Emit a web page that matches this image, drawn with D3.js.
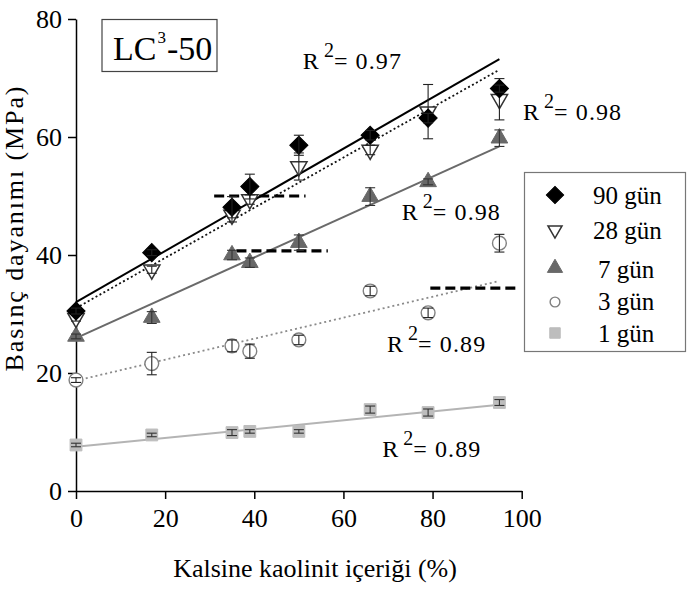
<!DOCTYPE html>
<html>
<head>
<meta charset="utf-8">
<script src="https://cdn.jsdelivr.net/npm/d3@7"></script>
</head>
<body style="margin:0">
<svg id="chart" width="687" height="589"></svg>
<script>
// Kalsine kaolinit içeriği (%) at which each mix was tested
const kaolinit = [0, 17, 35, 39, 50, 66, 79, 95];

// Compressive strength (MPa) per curing age, with error-bar half widths
const seriesNames = ["90 gün", "28 gün", "7 gün", "3 gün", "1 gün"];
const gun90 = [30.5, 40.4, 48.1, 51.6, 58.6, 60.3, 63.2, 68.2];
const err90 = [0.5, 0.5, 1.8, 2.1, 1.7, 0.8, 0.8, 0.6];
const gun28 = [29.3, 37.5, 46.8, 49.4, 55.0, 57.8, 64.3, 66.4];
const err28 = [0.5, 0.6, 1.2, 0.8, 2.3, 0.8, 4.6, 3.5];
const gun7 = [26.2, 29.4, 40.0, 38.7, 42.1, 49.9, 52.4, 59.8];
const err7 = [0.4, 1.0, 0.8, 0.8, 1.3, 1.5, 0.5, 1.4];
const gun3 = [18.8, 21.6, 24.6, 23.7, 25.6, 33.9, 30.2, 42.0];
const err3 = [0.4, 1.9, 1.0, 1.2, 0.8, 0.8, 0.8, 1.5];
const gun1 = [7.8, 9.5, 9.9, 10.1, 10.1, 13.8, 13.3, 15.0];
const err1 = [0.3, 0.3, 0.5, 0.3, 0.3, 0.6, 0.6, 0.5];

// Linear trend lines: value at 0 % and at 95 % kaolinit
const fitFromX = 0, fitToX = 95;
const fitStart = [32.0, 31.0, 25.9, 18.7, 7.5];
const fitEnd = [73.2, 71.4, 58.4, 35.6, 14.6];

// R² of each trend line
const r2Values = ["0.97", "0.98", "0.98", "0.89", "0.89"];

// Dashed reference levels (MPa) and their extent along x
const refLevel = [50.0, 40.7, 34.4];
const refFrom = [31, 36, 79.5];
const refTo = [51.5, 56.5, 99.5];

// Axis ticks
const xTicks = [0, 20, 40, 60, 80, 100];
const xMinor = [10, 30, 50, 70, 90];
const yTicks = [0, 20, 40, 60, 80];
const yMinor = [10, 30, 50, 70];

const values = [gun90, gun28, gun7, gun3, gun1];
const errors = [err90, err28, err7, err3, err1];

const SERIF = "Liberation Serif";

// ---- styling per series ----
const styles = [
  { symbol: d3.symbolSquare, size: 165, rotate: 45, fill: "#000", stroke: "#000", sw: 1, legendSize: 150,
    line: "#000", dash: null, lw: 2 },
  { symbol: d3.symbolTriangle, size: 115, rotate: 180, fill: "#fff", stroke: "#333", sw: 1.5, legendSize: 85,
    line: "#111", dash: "2,2.5", lw: 1.8 },
  { symbol: d3.symbolTriangle, size: 120, rotate: 0, fill: "#686868", stroke: "#686868", sw: 1, legendSize: 100,
    line: "#6a6a6a", dash: null, lw: 2 },
  { symbol: d3.symbolCircle, size: 150, rotate: 0, fill: "#fff", stroke: "#808080", sw: 1.4, legendSize: 75,
    line: "#8a8a8a", dash: "2,3", lw: 1.8 },
  { symbol: d3.symbolSquare, size: 140, rotate: 0, fill: "#bdbdbd", stroke: "#bdbdbd", sw: 1, legendSize: 110,
    line: "#b4b4b4", dash: null, lw: 2 }
];

const svg = d3.select("#chart");
const x = d3.scaleLinear().domain([0, 100]).range([76, 521.7]);
const y = d3.scaleLinear().domain([0, 80]).range([491, 19]);

// ---- axes ----
const axisFont = 26;
const gx = svg.append("g").attr("transform", `translate(0,${y(0)})`);
gx.call(d3.axisBottom(x).tickValues(xMinor).tickSize(4).tickSizeOuter(0).tickFormat(""));
gx.call(d3.axisBottom(x).tickValues(xTicks).tickSize(8).tickSizeOuter(0).tickPadding(10).tickFormat(d3.format("d")));

const gy = svg.append("g").attr("transform", `translate(${x(0)},0)`);
gy.call(d3.axisLeft(y).tickValues(yMinor).tickSize(5).tickSizeOuter(0).tickFormat(""));
gy.call(d3.axisLeft(y).tickValues(yTicks).tickSize(8).tickSizeOuter(0).tickPadding(6).tickFormat(d3.format("d")));

[gx, gy].forEach(g => g.attr("font-family", SERIF).attr("font-size", axisFont)
  .selectAll("text").attr("fill", "#000"));
svg.selectAll(".domain, .tick line").attr("stroke", "#000").attr("stroke-width", 1.5);

// axis titles
svg.append("text")
  .attr("x", 315).attr("y", 577)
  .attr("text-anchor", "middle")
  .attr("font-size", 26)
  .text("Kalsine kaolinit içeriği (%)");

svg.append("text")
  .attr("transform", `translate(23,228) rotate(-90)`)
  .attr("text-anchor", "middle")
  .attr("font-size", 26)
  .attr("letter-spacing", 1.9)
  .text("Basınç dayanımı (MPa)");

// ---- trend lines ----
const plot = svg.append("g");
seriesNames.forEach((name, i) => {
  const st = styles[i];
  plot.append("line")
    .attr("x1", x(fitFromX)).attr("y1", y(fitStart[i]))
    .attr("x2", x(fitToX)).attr("y2", y(fitEnd[i]))
    .attr("stroke", st.line)
    .attr("stroke-width", st.lw)
    .attr("stroke-dasharray", st.dash);
});

// ---- dashed reference levels ----
refLevel.forEach((v, i) => {
  plot.append("line")
    .attr("x1", x(refFrom[i])).attr("x2", x(refTo[i]))
    .attr("y1", y(v)).attr("y2", y(v))
    .attr("stroke", "#000")
    .attr("stroke-width", 3.2)
    .attr("stroke-dasharray", "10,5");
});

// ---- markers (oldest age drawn last so it sits on top) ----
[4, 3, 2, 1, 0].forEach(i => {
  const st = styles[i];
  const sym = d3.symbol().type(st.symbol).size(st.size);
  const g = plot.append("g");
  g.selectAll("path")
    .data(values[i])
    .join("path")
    .attr("d", sym)
    .attr("transform", (d, j) => `translate(${x(kaolinit[j])},${y(d)}) rotate(${st.rotate})`)
    .attr("fill", st.fill)
    .attr("stroke", st.stroke)
    .attr("stroke-width", st.sw);

  // error bars
  const cap = 5;
  const eb = g.selectAll("g.eb")
    .data(values[i].map((v, j) => ({ x: kaolinit[j], v, e: errors[i][j] })))
    .join("g").attr("class", "eb")
    .attr("stroke", i === 2 || i === 4 ? "#333" : "#222")
    .attr("stroke-width", 1.1);
  eb.append("line")
    .attr("x1", d => x(d.x)).attr("x2", d => x(d.x))
    .attr("y1", d => y(d.v - d.e)).attr("y2", d => y(d.v + d.e));
  eb.append("line")
    .attr("x1", d => x(d.x) - cap).attr("x2", d => x(d.x) + cap)
    .attr("y1", d => y(d.v + d.e)).attr("y2", d => y(d.v + d.e));
  eb.append("line")
    .attr("x1", d => x(d.x) - cap).attr("x2", d => x(d.x) + cap)
    .attr("y1", d => y(d.v - d.e)).attr("y2", d => y(d.v - d.e));
});

// ---- R² annotations (anchored in data coordinates) ----
const r2AnchorX = [50.9, 100.3, 73.1, 69.8, 68.7];
const r2AnchorY = [71.5, 62.9, 45.9, 23.6, 5.8];
r2Values.forEach((val, i) => {
  const t = svg.append("text")
    .attr("x", x(r2AnchorX[i])).attr("y", y(r2AnchorY[i]))
    .attr("font-size", 24);
  t.append("tspan").text("R");
  t.append("tspan").attr("font-size", 20).attr("dx", 5).attr("dy", -12).text("2");
  t.append("tspan").attr("dy", 12).attr("letter-spacing", 1.1).text("= " + val);
});

// ---- title box ----
svg.append("rect")
  .attr("x", 102).attr("y", 19.5).attr("width", 115).attr("height", 52)
  .attr("fill", "#fff").attr("stroke", "#444").attr("stroke-width", 1.2);
const title = svg.append("text").attr("x", 113).attr("y", 60).attr("font-size", 34);
title.append("tspan").text("LC");
title.append("tspan").attr("font-size", 17).attr("dy", -17).attr("dx", 1).text("3");
title.append("tspan").attr("dy", 17).attr("dx", 1).text("-50");

// ---- legend ----
svg.append("rect")
  .attr("x", 524.5).attr("y", 172.5).attr("width", 161).attr("height", 179)
  .attr("fill", "#fff").attr("stroke", "#777").attr("stroke-width", 1.2);
const legendRowY = [195, 230, 268, 302, 333];
const legendTextX = [593, 593, 598, 598, 598];
const legendBaseY = [204, 239, 278, 310, 342];
seriesNames.forEach((name, i) => {
  const st = styles[i];
  svg.append("path")
    .attr("d", d3.symbol().type(st.symbol).size(st.legendSize))
    .attr("transform", `translate(555,${legendRowY[i]}) rotate(${st.rotate})`)
    .attr("fill", st.fill)
    .attr("stroke", st.stroke)
    .attr("stroke-width", st.sw);
  svg.append("text")
    .attr("x", legendTextX[i]).attr("y", legendBaseY[i])
    .attr("font-size", 25)
    .text(name);
});

// serif face on every label
svg.selectAll("text")
  .attr("font-family", SERIF)
  .style("font-family", "'Liberation Serif', serif", "important");
</script>
</body>
</html>
